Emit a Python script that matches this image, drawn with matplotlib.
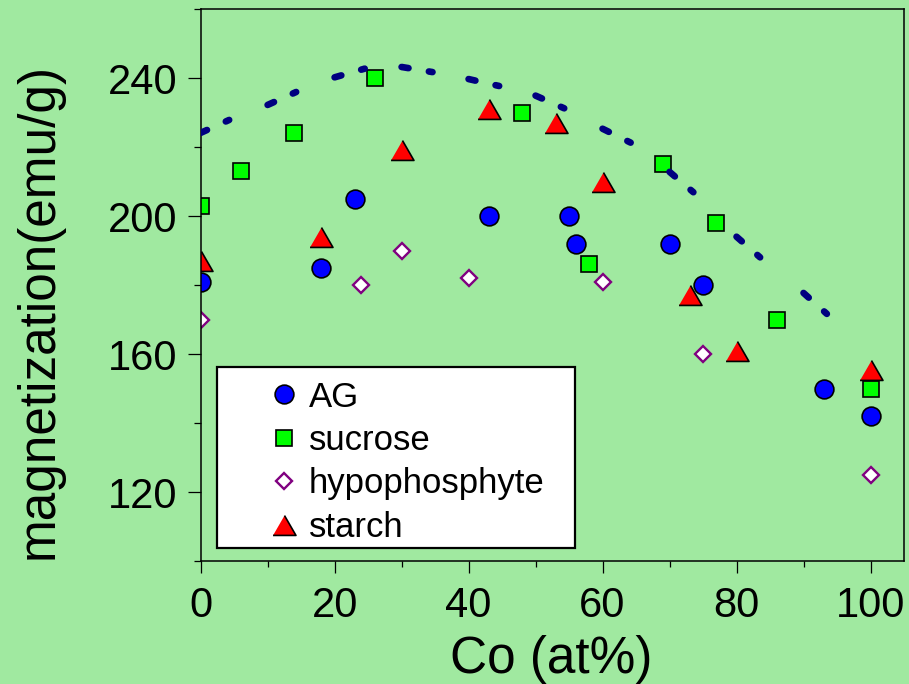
import matplotlib
matplotlib.use("Agg")
import matplotlib.pyplot as plt
from matplotlib.patches import Rectangle
from matplotlib.ticker import MultipleLocator

plt.rcParams.update({
    "font.family": ["Liberation Sans", "DejaVu Sans"],
    "axes.linewidth": 1.1,
})

BG = "#a0e9a0"

# Co content (at%) and saturation magnetization (emu/g) per reducing agent
ag_x = [0, 18, 23, 43, 55, 56, 70, 75, 93, 100]
ag_y = [181, 185, 205, 200, 200, 192, 192, 180, 150, 142]

sucrose_x = [0, 6, 14, 26, 48, 58, 69, 77, 86, 100]
sucrose_y = [203, 213, 224, 240, 230, 186, 215, 198, 170, 150]

hypo_x = [0, 24, 30, 40, 60, 75, 100]
hypo_y = [170, 180, 190, 182, 181, 160, 125]

starch_x = [0, 18, 30, 43, 53, 60, 73, 80, 100]
starch_y = [187, 194, 219, 231, 227, 210, 177, 161, 155.5]

# upper envelope guide, every 5 at%
guide_x = [0, 5, 10, 15, 20, 25, 30, 35, 40, 45,
           50, 55, 60, 65, 70, 75, 80, 85, 90, 95]
guide_y = [224.1, 228.5, 232.2, 236.6, 240.2, 243.0, 243.2, 241.6, 239.7, 237.5,
           234.9, 230.6, 225.3, 220.5, 212.8, 204.5, 194.0, 185.5, 177.7, 169.0]

xticks = [0, 20, 40, 60, 80, 100]
yticks = [120, 160, 200, 240]

fig = plt.figure(figsize=(9.09, 6.84), dpi=100, facecolor=BG)
ax = fig.add_axes([0.2207, 0.1798, 0.7738, 0.8070], facecolor=BG)

tri = [(-1, -0.866), (1, -0.866), (0, 0.866)]
ax.plot(ag_x, ag_y, ls="none", marker="o", ms=13.5, mfc="#0000ff",
        mec="black", mew=1.2, label="AG")
ax.plot(sucrose_x, sucrose_y, ls="none", marker="s", ms=11.3, mfc="#00ff00",
        mec="black", mew=1.2, label="sucrose")
ax.plot(hypo_x, hypo_y, ls="none", marker="D", ms=8.2, mfc="white",
        mec="#800080", mew=1.7, label="hypophosphyte")
ax.plot(starch_x, starch_y, ls="none", marker=tri, ms=16.5, mfc="#ff0000",
        mec="black", mew=1.2, label="starch")

# dash pattern restarts on each 10 at% piece of the guide
for i in range(0, len(guide_x) - 1, 2):
    ax.plot(guide_x[i:i + 3], guide_y[i:i + 3], color="#000080", lw=4.8,
            dash_capstyle="round", ls=(0, (1.05, 3.1, 0.55, 40)), zorder=5)

ax.set_xlim(0, 105)
ax.set_ylim(100, 260)
ax.set_xticks(xticks)
ax.set_yticks(yticks)
ax.xaxis.set_minor_locator(MultipleLocator(10))
ax.yaxis.set_minor_locator(MultipleLocator(20))
ax.tick_params(axis="x", which="major", direction="out", length=8.6, width=0.9,
               pad=9.5, labelsize=30)
ax.tick_params(axis="x", which="minor", direction="out", length=4, width=0.9)
ax.tick_params(axis="y", which="major", direction="out", length=9.4, width=0.9,
               pad=7.5, labelsize=30)
ax.tick_params(axis="y", which="minor", direction="out", length=5, width=0.9)

fig.text(551.5 / 909, 1 - 673 / 684, "Co (at%)", fontsize=37,
         ha="center", va="baseline")
fig.text(39 / 909, 1 - 311 / 684, "magnetization(emu/g)", fontsize=37,
         rotation=90, ha="center", va="center")

# legend box
ax.add_patch(Rectangle((0.0233, 0.0236), 0.5087, 0.3278, transform=ax.transAxes,
                       facecolor="white", edgecolor="black", lw=1.6, zorder=6))
leg = ax.legend(loc="center left", bbox_to_anchor=(0.0935, 0.179), frameon=False,
                fontsize=25, handlelength=1.0, handletextpad=0.22,
                labelspacing=0.30, borderpad=0, borderaxespad=0)
leg.set_zorder(7)

fig.savefig("out.png", dpi=100, facecolor=BG)
